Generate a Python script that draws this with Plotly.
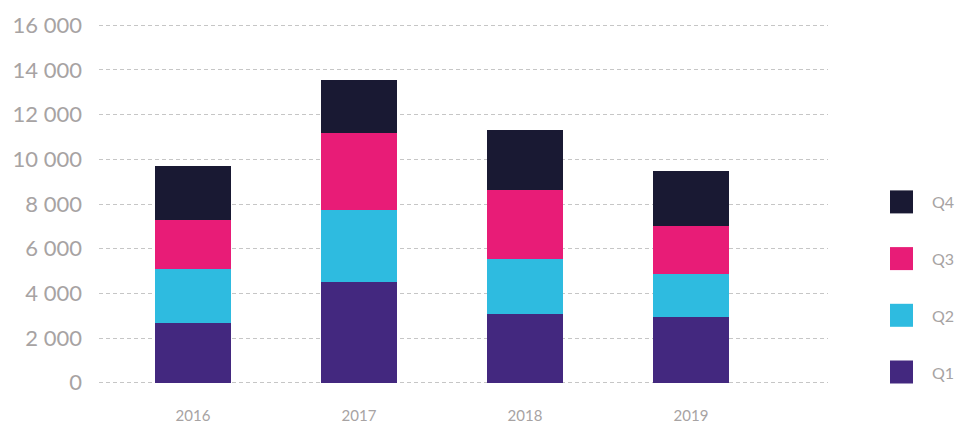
import plotly.graph_objects as go

years = ['2016', '2017', '2018', '2019']
series_names = ['Q1', 'Q2', 'Q3', 'Q4']
q1 = [2680, 4510, 3080, 2950]
q2 = [2415, 3220, 2460, 1920]
q3 = [2190, 3440, 3090, 2150]
q4 = [2415, 2370, 2680, 2460]
colors = ['#43287f', '#2ebbe0', '#e81c77', '#191933']

W, H = 958, 424
M_L, M_R, M_T, M_B = 99, 130, 23, 39
plot_w = W - M_L - M_R
plot_h = H - M_T - M_B


def px_x(x):
    return (x - M_L) / plot_w


def px_y(y):
    return (H - M_B - y) / plot_h


fig = go.Figure()
for name, vals, col in zip(series_names, [q1, q2, q3, q4], colors):
    fig.add_trace(go.Bar(
        x=years, y=vals, name=name,
        marker=dict(color=col, line=dict(width=0)),
        showlegend=False,
    ))

# legend drawn by hand: big squares, Q4 on top
for i, (name, col) in enumerate(zip(series_names, colors)):
    cy = 372 - i * 56.7
    fig.add_shape(type='rect', xref='paper', yref='paper',
                  x0=px_x(890), x1=px_x(913),
                  y0=px_y(cy + 11.5), y1=px_y(cy - 11.5),
                  fillcolor=col, line=dict(width=0))
    fig.add_annotation(x=px_x(930), y=px_y(cy), xref='paper', yref='paper',
                       text=name, showarrow=False, xanchor='left', yanchor='middle',
                       font=dict(size=16, color='#a7a3a3'))

fig.update_layout(
    barmode='stack',
    bargap=0.54,
    width=W, height=H,
    margin=dict(l=M_L, r=M_R, t=M_T, b=M_B),
    plot_bgcolor='white',
    paper_bgcolor='white',
    separators='. ',
    font=dict(family='Lato, Open Sans, sans-serif', color='#a7a3a3'),
    xaxis=dict(
        range=[-0.566, 3.825],
        showgrid=False, zeroline=False, showline=False,
        tickfont=dict(size=15, color='#a7a3a3'),
        ticks='', ticklabelstandoff=20, automargin=False,
    ),
    yaxis=dict(
        range=[-100, 16100],
        tickvals=list(range(0, 16001, 2000)),
        tickformat=',d',
        showgrid=True, gridcolor='#c6c6c6', gridwidth=1, griddash='4px,3px',
        zeroline=False, showline=False,
        tickfont=dict(size=22, color='#a7a3a3'),
        ticks='', ticklabelstandoff=16, automargin=False,
    ),
)

fig.write_html('out.html', config={'displayModeBar': False},
               post_script="document.body.style.margin='0';")
